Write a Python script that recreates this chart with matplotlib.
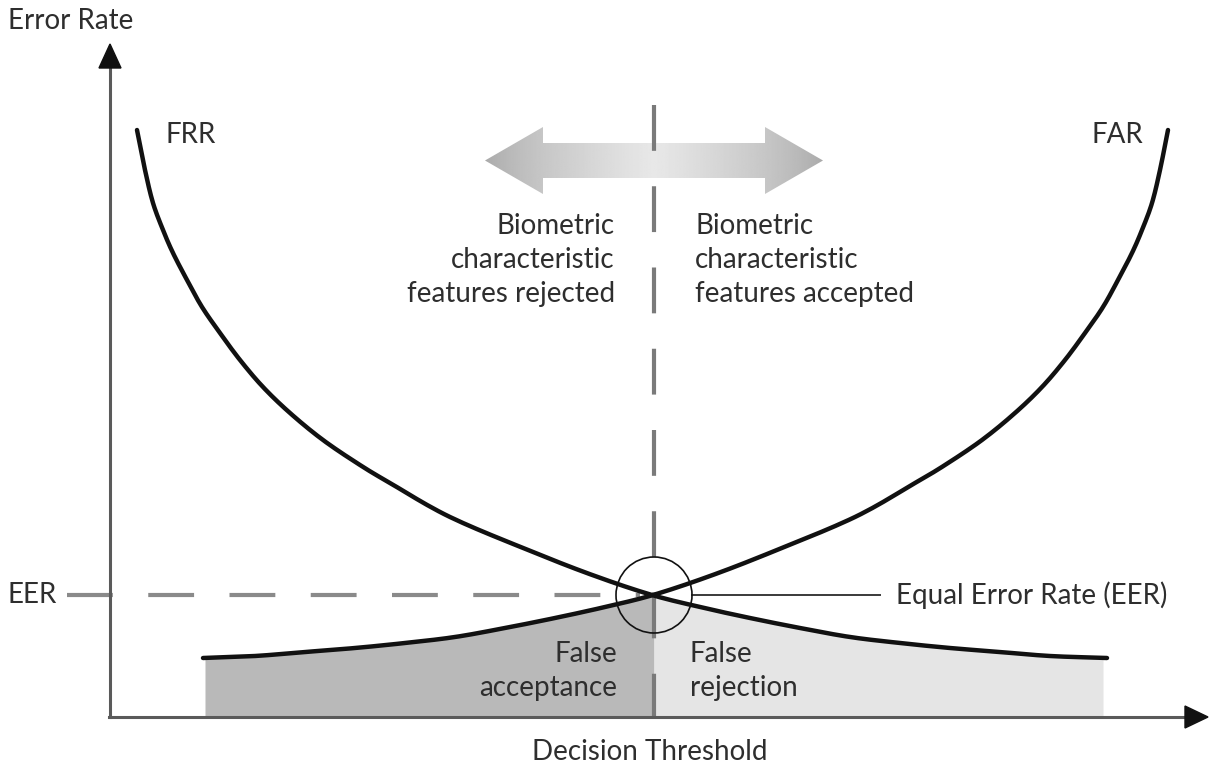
import numpy as np
import matplotlib
matplotlib.use("Agg")
import matplotlib.pyplot as plt
from matplotlib.patches import Polygon, Circle

# ---- data (diagram coordinates, pixel space, y grows downward) ----
frr_x = [137, 145, 153, 163, 173, 187, 202, 220, 240, 263, 290, 323, 360, 390, 450, 533, 595,
         652, 700, 750, 800, 850, 900, 950, 1000, 1050, 1107]
frr_y = [130, 170, 203, 230, 253, 280, 307, 333, 360, 387, 413, 440, 465, 483, 517, 552, 576,
         595, 607, 618, 628, 637, 643, 648, 652, 656, 658]
far_x = [203, 255, 305, 355, 405, 455, 505, 555, 605, 653, 710, 772, 855, 915, 945, 982,
         1015, 1042, 1065, 1085, 1103, 1118, 1132, 1142, 1152, 1160, 1168]
far_y = [658, 656, 652, 648, 643, 637, 628, 618, 607, 595, 576, 552, 517, 483, 465, 440,
         413, 387, 360, 333, 307, 280, 253, 230, 203, 170, 130]

eer_x = 654
eer_y = 595
fill_left = 205
fill_right = 1103
axis_origin = (110, 717)

FONT = ["Lato", "DejaVu Sans"]
TXT = "#2e2e2e"


def smooth(xs, ys, n=12):
    """Catmull-Rom rendering through the read points (for a smooth stroke)."""
    p = np.column_stack([xs, ys]).astype(float)
    p = np.vstack([2 * p[0] - p[1], p, 2 * p[-1] - p[-2]])
    out = []
    for i in range(1, len(p) - 2):
        p0, p1, p2, p3 = p[i - 1], p[i], p[i + 1], p[i + 2]
        for t in np.linspace(0, 1, n, endpoint=False):
            t2, t3 = t * t, t * t * t
            out.append(0.5 * ((2 * p1) + (-p0 + p2) * t + (2 * p0 - 5 * p1 + 4 * p2 - p3) * t2
                              + (-p0 + 3 * p1 - 3 * p2 + p3) * t3))
    out.append(p[-2])
    out = np.array(out)
    return out[:, 0], out[:, 1]


fig = plt.figure(figsize=(12.15, 7.72), dpi=100)
ax = fig.add_axes([0, 0, 1, 1])
ax.set_xlim(0, 1215)
ax.set_ylim(772, 0)
ax.axis("off")

fx, fy = smooth(frr_x, frr_y)
ax_, ay_ = smooth(far_x, far_y)

# shaded regions
xl = np.linspace(fill_left, eer_x, 300)
yl = np.interp(xl, ax_, ay_)
ax.fill_between(xl, yl, axis_origin[1], color="#b9b9b9", lw=0, zorder=1)
xr = np.linspace(eer_x, fill_right, 300)
yr = np.interp(xr, fx, fy)
ax.fill_between(xr, yr, axis_origin[1], color="#e5e5e5", lw=0, zorder=1)

# gradient double arrow
arrow_left, arrow_right = 485, 823
head_len = 58
shaft_top, shaft_bot = 143, 178
head_top, head_bot = 127, 194
cy = (shaft_top + shaft_bot) / 2
verts = [(arrow_left, cy), (arrow_left + head_len, head_top), (arrow_left + head_len, shaft_top),
         (arrow_right - head_len, shaft_top), (arrow_right - head_len, head_top), (arrow_right, cy),
         (arrow_right - head_len, head_bot), (arrow_right - head_len, shaft_bot),
         (arrow_left + head_len, shaft_bot), (arrow_left + head_len, head_bot)]
poly = Polygon(verts, closed=True, facecolor="none", edgecolor="none")
ax.add_patch(poly)
t = np.linspace(-1, 1, 300)
grad = 0.66 + 0.25 * (1 - np.abs(t)) ** 0.7
img = ax.imshow(grad[np.newaxis, :], extent=[arrow_left, arrow_right, head_bot, head_top],
                cmap="gray", vmin=0, vmax=1, aspect="auto", zorder=2, interpolation="bilinear")
img.set_clip_path(poly)
ax.set_xlim(0, 1215)
ax.set_ylim(772, 0)

# dashed guide lines
ax.plot([eer_x, eer_x], [105, axis_origin[1]], color="#7a7a7a", lw=3.0,
        dashes=(11, 8.5), dash_capstyle="butt", zorder=3)
ax.plot([67, 640], [eer_y, eer_y], color="#8a8a8a", lw=3.0,
        dashes=(11, 8.5), dash_capstyle="butt", zorder=3)

# solid pointer to label
ax.plot([692, 880], [eer_y, eer_y], color="#3a3a3a", lw=1.4, zorder=3)

# curves
ax.plot(fx, fy, color="#111111", lw=3.2, solid_capstyle="round", zorder=4)
ax.plot(ax_, ay_, color="#111111", lw=3.2, solid_capstyle="round", zorder=4)

# EER circle
ax.add_patch(Circle((eer_x, eer_y), 38, facecolor="none", edgecolor="#111111", lw=1.2, zorder=5))

# axes with arrow heads
ax.plot([axis_origin[0], axis_origin[0]], [axis_origin[1], 66], color="#5a5a5a", lw=2.2, zorder=3)
ax.add_patch(Polygon([(axis_origin[0], 44), (axis_origin[0] - 11, 68), (axis_origin[0] + 11, 68)],
                     closed=True, color="#111111", zorder=4))
ax.plot([axis_origin[0] - 1, 1188], [axis_origin[1], axis_origin[1]], color="#5a5a5a", lw=2.2, zorder=3)
ax.add_patch(Polygon([(1208, axis_origin[1]), (1185, axis_origin[1] - 11), (1185, axis_origin[1] + 11)],
                     closed=True, color="#111111", zorder=4))

# texts
fs = 20
ls = 1.4
ax.text(8, 21, "Error Rate", fontsize=fs, family=FONT, color=TXT, ha="left", va="center")
ax.text(165, 135, "FRR", fontsize=fs, family=FONT, color=TXT, ha="left", va="center")
ax.text(1143, 135, "FAR", fontsize=fs, family=FONT, color=TXT, ha="right", va="center")
ax.text(615, 260, "Biometric\ncharacteristic\nfeatures rejected", fontsize=fs, family=FONT,
        color=TXT, ha="right", va="center", multialignment="right", linespacing=ls)
ax.text(695, 260, "Biometric\ncharacteristic\nfeatures accepted", fontsize=fs, family=FONT,
        color=TXT, ha="left", va="center", multialignment="left", linespacing=ls)
ax.text(8, 595, "EER", fontsize=fs, family=FONT, color=TXT, ha="left", va="center")
ax.text(896, 595, "Equal Error Rate (EER)", fontsize=fs, family=FONT, color=TXT, ha="left", va="center")
ax.text(617, 671, "False\nacceptance", fontsize=fs, family=FONT, color=TXT, ha="right",
        va="center", multialignment="right", linespacing=ls)
ax.text(690, 671, "False\nrejection", fontsize=fs, family=FONT, color=TXT, ha="left",
        va="center", multialignment="left", linespacing=ls)
ax.text(650, 752, "Decision Threshold", fontsize=fs, family=FONT, color=TXT, ha="center", va="center")

fig.savefig("out.png", dpi=100, facecolor="white")
